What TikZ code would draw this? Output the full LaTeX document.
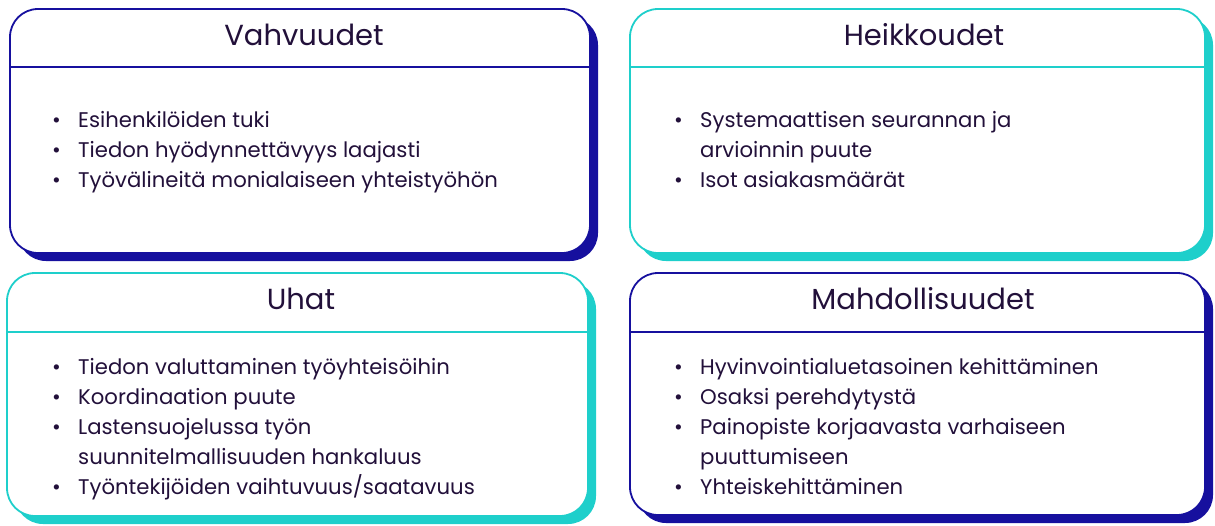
\documentclass[tikz,border=0pt]{standalone}
\usepackage{fontspec}
\setmainfont{Poppins}
\definecolor{navy}{HTML}{16109E}
\definecolor{tealc}{HTML}{1ECFCB}
\definecolor{ink}{HTML}{22103A}
\tikzset{
  shadowbox/.style={fill=#1, rounded corners=28pt},
  frontbox/.style={draw=#1, line width=1.8pt, fill=white, rounded corners=28pt},
  headline/.style={draw=#1, line width=1.6pt},
  titletext/.style={text=ink, font=\fontsize{29}{34}\selectfont, anchor=base, inner sep=0pt},
  bodytext/.style={text=ink, font=\fontsize{21.2}{30}\selectfont, anchor=base west, inner sep=0pt, align=left},
}
\newcommand{\bl}{\makebox[23pt][l]{\hspace{-3pt}\textbullet}}
\newcommand{\ind}{\makebox[23pt]{}}
\begin{document}
\begin{tikzpicture}[x=1pt,y=-1pt]
\useasboundingbox (0,0) rectangle (1215,525);
% box 1
\fill[shadowbox=navy] (18,17) rectangle (598,261);
\draw[frontbox=navy] (10,9) rectangle (590,253);
\coordinate (b1l) at (10,67); \coordinate (b1r) at (590,67);
\draw[headline=navy] (b1l) -- (b1r);
\node[titletext] (t1) at (304,45) {Vahvuudet};
\node[bodytext] (l1) at (55,127) {\begin{tabular}[t]{@{}l@{}}
\bl Esihenkilöiden tuki\\
\bl Tiedon hyödynnettävyys laajasti\\
\bl Työvälineitä monialaiseen yhteistyöhön
\end{tabular}};
% box 2
\fill[shadowbox=tealc] (638,17) rectangle (1213,261);
\draw[frontbox=tealc] (630,9) rectangle (1205,253);
\coordinate (b2l) at (630,67); \coordinate (b2r) at (1205,67);
\draw[headline=tealc] (b2l) -- (b2r);
\node[titletext] (t2) at (924,45) {Heikkoudet};
\node[bodytext] (l2) at (677,127) {\begin{tabular}[t]{@{}l@{}}
\bl Systemaattisen seurannan ja\\
\ind arvioinnin puute\\
\bl Isot asiakasmäärät
\end{tabular}};
% box 3
\fill[shadowbox=tealc] (15,281) rectangle (596,524);
\draw[frontbox=tealc] (7,273) rectangle (588,516);
\coordinate (b3l) at (7,332); \coordinate (b3r) at (588,332);
\draw[headline=tealc] (b3l) -- (b3r);
\node[titletext] (t3) at (301,309) {Uhat};
\node[bodytext] (l3) at (55,374) {\begin{tabular}[t]{@{}l@{}}
\bl Tiedon valuttaminen työyhteisöihin\\
\bl Koordinaation puute\\
\bl Lastensuojelussa työn\\
\ind suunnitelmallisuuden hankaluus\\
\bl Työntekijöiden vaihtuvuus/saatavuus
\end{tabular}};
% box 4
\fill[shadowbox=navy] (638,281) rectangle (1213,523);
\draw[frontbox=navy] (630,273) rectangle (1205,515);
\coordinate (b4l) at (630,332); \coordinate (b4r) at (1205,332);
\draw[headline=navy] (b4l) -- (b4r);
\node[titletext] (t4) at (923,309) {Mahdollisuudet};
\node[bodytext] (l4) at (677,374) {\begin{tabular}[t]{@{}l@{}}
\bl Hyvinvointialuetasoinen kehittäminen\\
\bl Osaksi perehdytystä\\
\bl Painopiste korjaavasta varhaiseen\\
\ind puuttumiseen\\
\bl Yhteiskehittäminen
\end{tabular}};
\end{tikzpicture}
\end{document}
